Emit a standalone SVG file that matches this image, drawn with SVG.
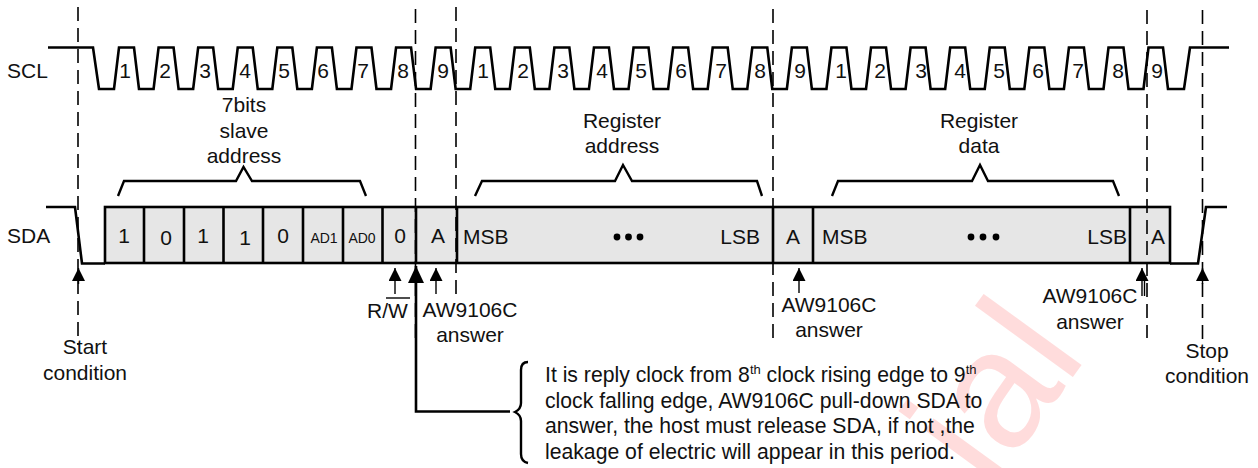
<svg xmlns="http://www.w3.org/2000/svg" width="1258" height="468" viewBox="0 0 1258 468">
<style>
text{font-family:"Liberation Sans",Arial,sans-serif;font-size:21px;fill:#111}
.m{text-anchor:middle}
.e{text-anchor:end}
.s{font-size:14px}
.n{font-size:21.2px}
.sup{font-size:13px}
.wave{fill:none;stroke:#000;stroke-width:2.6}
.cell{fill:#e6e6e6;stroke:#000;stroke-width:2.6}
.div{fill:none;stroke:#000;stroke-width:2.6}
.dash{fill:none;stroke:#000;stroke-width:1.6;stroke-dasharray:14 7}
.thin{fill:none;stroke:#000;stroke-width:1.4}
.brace{fill:none;stroke:#000;stroke-width:2.4}
.wm{font-size:167px;fill:#ffdcdc}
</style>
<defs>
<marker id="head" markerUnits="userSpaceOnUse" markerWidth="14" markerHeight="14" refX="13" refY="6.5" orient="auto"><path d="M0 0L13 6.5L0 13z" fill="#000"/></marker>
<marker id="big" markerUnits="userSpaceOnUse" markerWidth="18" markerHeight="18" refX="17" refY="8" orient="auto"><path d="M0 0L17 8L0 16z" fill="#000"/></marker>
</defs>
<text id="watermark" class="wm e" transform="translate(1088 356) rotate(-54)">ial</text>
<g id="scl">
<text x="7" y="78">SCL</text>
<path class="wave" d="M48 47.500H93L99 89H114l5-41.500h15l5 41.500h14.580l5-41.500h15l5 41.500h14.580l5-41.500h15l5 41.500h14.580l5-41.500h15l5 41.500h14.580l5-41.500h15l5 41.500h14.580l5-41.500h15l5 41.500h14.580l5-41.500h15l5 41.500h14.580l5-41.500h15l5 41.500h14.580l5-41.500h15l5 41.500h14.580l5-41.500h15l5 41.500h14.580l5-41.500h15l5 41.500h14.580l5-41.500h15l5 41.500h14.580l5-41.500h15l5 41.500h14.580l5-41.500h15l5 41.500h14.580l5-41.500h15l5 41.500h14.580l5-41.500h15l5 41.500h14.580l5-41.500h15l5 41.500h14.580l5-41.500h15l5 41.500h14.580l5-41.500h15l5 41.500h14.580l5-41.500h15l5 41.500h14.580l5-41.500h15l5 41.500h14.580l5-41.500h15l5 41.500h14.580l5-41.500h15l5 41.500h14.580l5-41.500h15l5 41.500h14.580l5-41.500h15l5 41.500h14.580l5-41.500h15l5 41.500h15l5-41.500H1163L1168 89H1184L1190 47.500H1229"/>
<g>
<text class="m" x="125" y="78">1</text><text class="m" x="165" y="78">2</text><text class="m" x="205" y="78">3</text><text class="m" x="245" y="78">4</text><text class="m" x="284" y="78">5</text><text class="m" x="323" y="78">6</text><text class="m" x="363" y="78">7</text><text class="m" x="403" y="78">8</text><text class="m" x="443" y="78">9</text>
<text class="m" x="483" y="78">1</text><text class="m" x="523" y="78">2</text><text class="m" x="563" y="78">3</text><text class="m" x="602" y="78">4</text><text class="m" x="641" y="78">5</text><text class="m" x="681" y="78">6</text><text class="m" x="721" y="78">7</text><text class="m" x="760" y="78">8</text><text class="m" x="800" y="78">9</text>
<text class="m" x="841" y="78">1</text><text class="m" x="880" y="78">2</text><text class="m" x="921" y="78">3</text><text class="m" x="960" y="78">4</text><text class="m" x="999" y="78">5</text><text class="m" x="1038" y="78">6</text><text class="m" x="1078" y="78">7</text><text class="m" x="1118" y="78">8</text><text class="m" x="1157" y="78">9</text>
</g>
</g>
<g id="sda">
<text x="7" y="243">SDA</text>
<rect class="cell" x="105" y="207" width="1065" height="56"/>
<path class="wave" d="M46 207H75L82 263.500H105M1170 263.500H1198L1206 207H1227"/>
<path class="div" d="M144 207V263M184 207V263M223.500 207V263M263 207V263M303 207V263M343 207V263M382.500 207V263M416 207V263M457 207V263M773 207V263M813 207V263M1130 207V263"/>
<text class="m" x="124" y="243">1</text><text class="m" x="166" y="245">0</text><text class="m" x="203" y="243">1</text><text class="m" x="245" y="245">1</text><text class="m" x="283" y="243">0</text>
<text class="m s" x="324" y="243">AD1</text><text class="m s" x="362" y="243">AD0</text>
<text class="m" x="400" y="243">0</text><text class="m" x="438" y="243">A</text>
<text x="463" y="244">MSB</text>
<circle cx="617" cy="237" r="3.400"/><circle cx="628.500" cy="237" r="3.400"/><circle cx="640" cy="237" r="3.400"/>
<text class="e" x="760" y="244">LSB</text>
<text class="m" x="793" y="244">A</text>
<text x="822" y="244">MSB</text>
<circle cx="971" cy="237" r="3.400"/><circle cx="983" cy="237" r="3.400"/><circle cx="996" cy="237" r="3.400"/>
<text class="e" x="1127" y="244">LSB</text>
<text class="m" x="1158" y="244">A</text>
</g>
<g id="connectors">
<path class="dash" d="M78 7V345"/>
<path class="dash" d="M415.500 9V345"/>
<path class="dash" d="M456 7V300"/>
<path class="dash" d="M773 9V338"/>
<path class="dash" d="M1147 10V338"/>
<path class="dash" d="M1202.500 10V340"/>
<path class="thin" d="M78.500 284V268" marker-end="url(#head)"/>
<path class="thin" d="M395 294V268" marker-end="url(#head)"/>
<path class="thin" d="M436 294V268" marker-end="url(#head)"/>
<path class="thin" d="M799 293V268" marker-end="url(#head)"/>
<path class="thin" d="M1142 296V268" marker-end="url(#head)"/>
<path class="thin" d="M1144.500 296V280"/>
<path class="thin" d="M1202.500 284V268" marker-end="url(#head)"/>
<path d="M510 411.500H416V266" fill="none" stroke="#000" stroke-width="2.6" marker-end="url(#big)"/>
</g>
<g id="slave-address">
<text class="m" x="244" y="112">7bits</text><text class="m" x="244" y="138">slave</text><text class="m" x="244" y="163">address</text>
<path class="brace" d="M118 196L124 181H236L243.500 167L252 181H360L366 196"/>
</g>
<g id="register-address">
<text class="m" x="622" y="128">Register</text><text class="m" x="622" y="153">address</text>
<path class="brace" d="M475 196L482 181H615L623 165L632 181H757L762 196"/>
</g>
<g id="register-data">
<text class="m" x="979" y="128">Register</text><text class="m" x="979" y="153">data</text>
<path class="brace" d="M832 196L838 181H972L980 165L988 181H1113L1119 196"/>
</g>
<g id="start"><text class="m" x="85" y="354">Start</text><text class="m" x="85" y="380">condition</text></g>
<g id="rw"><text x="367" y="318">R/W</text><path class="thin" d="M386 298H410"/></g>
<g id="answer-1"><text class="m" x="470" y="317">AW9106C</text><text class="m" x="470" y="342">answer</text></g>
<g id="answer-2"><text class="m" x="829" y="312">AW9106C</text><text class="m" x="829" y="337">answer</text></g>
<g id="answer-3"><text class="m" x="1090" y="303">AW9106C</text><text class="m" x="1090" y="329">answer</text></g>
<g id="stop"><text class="m" x="1207" y="358">Stop</text><text class="m" x="1207" y="383">condition</text></g>
<g id="note">
<path class="brace" d="M528 362C523 362 521 365 521 370V403C521 408 519 410 515 412C519 414 521 416 521 421V454C521 459 523 462 528 463"/>
<text class="n" x="545" y="382">It is reply clock from 8<tspan class="sup" dy="-8">th</tspan><tspan dy="8"> clock rising edge to 9</tspan><tspan class="sup" dy="-8">th</tspan></text>
<text class="n" x="545" y="408">clock falling edge, AW9106C pull-down SDA to</text>
<text class="n" x="545" y="433">answer, the host must release SDA, if not ,the</text>
<text class="n" x="545" y="459">leakage of electric will appear in this period.</text>
</g>
</svg>
